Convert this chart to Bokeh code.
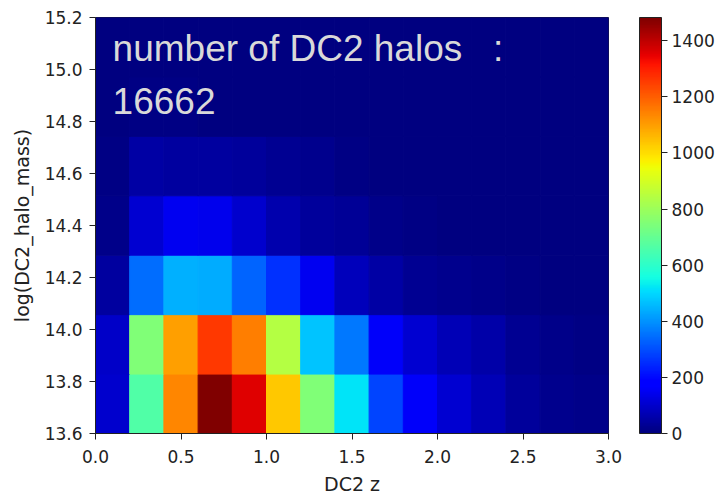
import numpy as np
from bokeh.plotting import figure
from bokeh.models import (ColumnDataSource, LinearColorMapper, ColorBar, FixedTicker,
                          Label, Range1d, PrintfTickFormatter)
from bokeh.transform import transform
from bokeh.embed import file_html
from bokeh.resources import INLINE

# ---- data -------------------------------------------------------------
x_edges = [0.0, 0.2, 0.4, 0.6, 0.8, 1.0, 1.2, 1.4, 1.6, 1.8, 2.0, 2.2, 2.4, 2.6, 2.8, 3.0]
y_edges = [13.6, 13.8286, 14.0571, 14.2857, 14.5143, 14.7429, 14.9714, 15.2]

# counts[row][col]; row 0 = lowest mass bin, col 0 = lowest z bin
counts = [
    [100, 663, 1140, 1483, 1360, 1036, 749, 520, 285, 160, 105, 75, 40, 20, 15],
    [95, 749, 1100, 1260, 1150, 841, 475, 360, 160, 110, 75, 55, 25, 15, 10],
    [45, 345, 445, 440, 333, 260, 150, 80, 50, 25, 20, 12, 8, 5, 4],
    [15, 110, 150, 140, 100, 60, 40, 30, 15, 10, 5, 4, 3, 2, 2],
    [10, 50, 45, 45, 35, 25, 20, 10, 5, 3, 2, 2, 1, 1, 1],
    [4, 6, 6, 5, 4, 3, 2, 2, 1, 1, 0, 0, 0, 0, 0],
    [0, 0, 0, 0, 0, 0, 0, 0, 0, 0, 0, 0, 0, 0, 0],
]
total_text = "16662"
x_ticks = [0.0, 0.5, 1.0, 1.5, 2.0, 2.5, 3.0]
y_ticks = [13.6, 13.8, 14.0, 14.2, 14.4, 14.6, 14.8, 15.0, 15.2]
cbar_ticks = [0, 200, 400, 600, 800, 1000, 1200, 1400]

# ---- jet palette ------------------------------------------------------
def jet_palette(n=256):
    t = np.linspace(0, 1, n)
    r = np.interp(t, [0, 0.35, 0.66, 0.89, 1], [0, 0, 1, 1, 0.5])
    g = np.interp(t, [0, 0.125, 0.375, 0.64, 0.91, 1], [0, 0, 1, 1, 0, 0])
    b = np.interp(t, [0, 0.11, 0.34, 0.65, 1], [0.5, 1, 1, 0, 0])
    return ["#%02x%02x%02x" % (int(round(rr * 255)), int(round(gg * 255)), int(round(bb * 255)))
            for rr, gg, bb in zip(r, g, b)]

palette = jet_palette()
vmax = max(max(r) for r in counts)
mapper = LinearColorMapper(palette=palette, low=0, high=vmax)

left, right, bottom, top, val = [], [], [], [], []
for i in range(len(y_edges) - 1):
    for j in range(len(x_edges) - 1):
        left.append(x_edges[j]); right.append(x_edges[j + 1])
        bottom.append(y_edges[i]); top.append(y_edges[i + 1])
        val.append(counts[i][j])
src = ColumnDataSource(dict(left=left, right=right, bottom=bottom, top=top, val=val))

TICK_FONT = "DejaVu Sans"
TXT = "#222222"

p = figure(frame_width=513, frame_height=416, output_backend="svg", toolbar_location=None,
           x_range=Range1d(0, 3), y_range=Range1d(13.6, 15.2),
           min_border_left=95, min_border_top=17, min_border_bottom=5, min_border_right=5,
           background_fill_color="white", border_fill_color="white")
p.quad(left="left", right="right", bottom="bottom", top="top", source=src,
       fill_color=transform("val", mapper), line_color=transform("val", mapper), line_width=1)

p.grid.visible = False
p.outline_line_color = "#222222"
p.outline_line_width = 1

for ax, ticks in ((p.xaxis, x_ticks), (p.yaxis, y_ticks)):
    ax.ticker = FixedTicker(ticks=ticks)
    ax.formatter = PrintfTickFormatter(format="%.1f")
    ax.major_tick_out = 6
    ax.major_tick_in = 0
    ax.minor_tick_line_color = None
    ax.major_tick_line_color = "#222222"
    ax.axis_line_color = "#222222"
    ax.major_label_text_font = TICK_FONT
    ax.major_label_text_font_size = "17px"
    ax.major_label_text_color = TXT
    ax.axis_label_text_font = TICK_FONT
    ax.axis_label_text_font_size = "19px"
    ax.axis_label_text_font_style = "normal"
    ax.axis_label_text_color = TXT

p.xaxis.axis_label = "DC2 z"
p.yaxis.axis_label = "log(DC2_halo_mass)"
p.xaxis.major_label_standoff = 10
p.yaxis.major_label_standoff = 7
p.xaxis.axis_label_standoff = 7
p.yaxis.axis_label_standoff = 9

cb = ColorBar(color_mapper=mapper, ticker=FixedTicker(ticks=cbar_ticks), width=22, height=416,
              padding=0, margin=0, location=(31, 0),
              major_tick_out=6, major_tick_in=0, major_tick_line_color="#222222",
              minor_tick_line_color=None, bar_line_color="#222222",
              major_label_text_font=TICK_FONT, major_label_text_font_size="17px",
              major_label_text_color=TXT, label_standoff=4,
              background_fill_alpha=0, border_line_color=None)
p.add_layout(cb, "right")

font = "Liberation Sans"
p.add_layout(Label(x=0.1, y=15.081, text="number of DC2 halos\u00a0\u00a0\u00a0:",
                   text_font=font, text_font_size="37px", text_color="#d9d9d9",
                   text_baseline="alphabetic"))
p.add_layout(Label(x=0.1, y=14.877, text=total_text,
                   text_font=font, text_font_size="37px", text_color="#d9d9d9",
                   text_baseline="alphabetic"))

open("out.html", "w").write(file_html(p, INLINE))
